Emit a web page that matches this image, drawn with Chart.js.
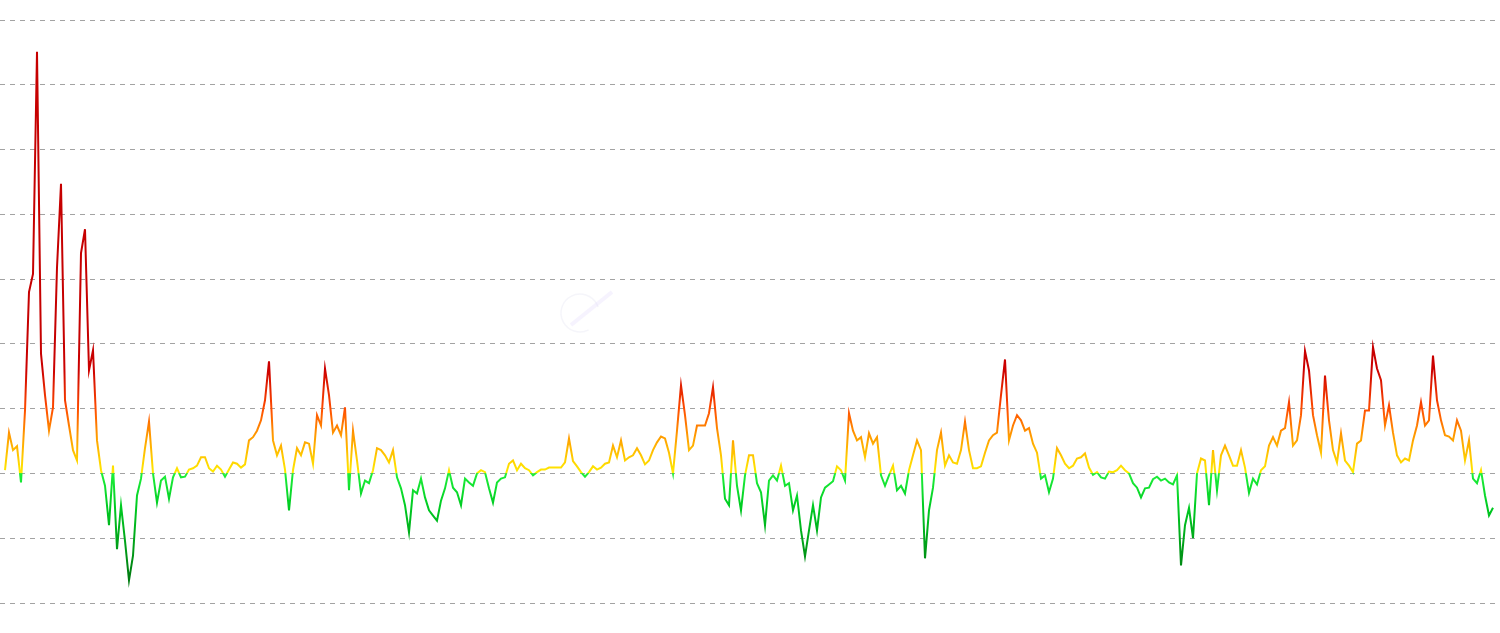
<!DOCTYPE html>
<html>
<head>
<meta charset="utf-8">
<title>Indicator</title>
<script src="https://cdn.jsdelivr.net/npm/chart.js@4.4.1/dist/chart.umd.min.js"></script>
<style>
    html, body { margin: 0; padding: 0; background: #fff; }
    .chart-wrap { position: relative; width: 1500px; height: 633px; }
</style>
</head>
<body>
<div class="chart-wrap"><canvas id="chart-main"></canvas></div>
<script>
// --- Data (one sample every few days) ---
const values = [
    0.05, 0.63, 0.36, 0.42, -0.14, 0.97, 2.80, 3.08, 6.51, 1.85,
    1.21, 0.66, 1.02, 3.18, 4.47, 1.13, 0.74, 0.36, 0.20, 3.40,
    3.77, 1.59, 1.90, 0.51, 0.05, -0.19, -0.80, 0.12, -1.17, -0.49,
    -1.04, -1.65, -1.27, -0.34, -0.08, 0.39, 0.80, 0.00, -0.45, -0.11,
    -0.05, -0.39, -0.06, 0.08, -0.06, -0.05, 0.06, 0.08, 0.12, 0.25,
    0.25, 0.08, 0.03, 0.12, 0.06, -0.05, 0.06, 0.17, 0.15, 0.09,
    0.14, 0.51, 0.56, 0.66, 0.82, 1.13, 1.73, 0.51, 0.28, 0.43,
    0.06, -0.57, 0.05, 0.39, 0.28, 0.48, 0.46, 0.15, 0.90, 0.74,
    1.62, 1.21, 0.63, 0.74, 0.59, 1.02, -0.26, 0.66, 0.20, -0.31,
    -0.11, -0.15, 0.05, 0.39, 0.36, 0.28, 0.17, 0.36, -0.06, -0.23,
    -0.49, -0.91, -0.26, -0.31, -0.08, -0.37, -0.57, -0.65, -0.73, -0.42,
    -0.23, 0.05, -0.22, -0.29, -0.49, -0.08, -0.14, -0.19, 0.00, 0.05,
    0.02, -0.23, -0.45, -0.14, -0.08, -0.06, 0.15, 0.20, 0.05, 0.15,
    0.08, 0.05, -0.03, 0.02, 0.06, 0.06, 0.09, 0.09, 0.09, 0.09,
    0.17, 0.54, 0.19, 0.11, 0.02, -0.05, 0.02, 0.11, 0.06, 0.09,
    0.15, 0.17, 0.43, 0.25, 0.51, 0.20, 0.25, 0.28, 0.39, 0.28,
    0.14, 0.20, 0.36, 0.48, 0.57, 0.54, 0.32, 0.00, 0.66, 1.36,
    0.90, 0.36, 0.43, 0.74, 0.74, 0.74, 0.93, 1.33, 0.70, 0.28,
    -0.39, -0.49, 0.51, -0.19, -0.57, -0.03, 0.28, 0.28, -0.15, -0.29,
    -0.80, -0.11, -0.03, -0.11, 0.12, -0.19, -0.15, -0.57, -0.34, -0.88,
    -1.28, -0.88, -0.49, -0.88, -0.37, -0.22, -0.17, -0.12, 0.11, 0.05,
    -0.11, 0.93, 0.66, 0.51, 0.56, 0.25, 0.62, 0.46, 0.56, -0.03,
    -0.19, -0.03, 0.12, -0.26, -0.19, -0.31, 0.05, 0.28, 0.51, 0.36,
    -1.31, -0.57, -0.22, 0.36, 0.63, 0.12, 0.28, 0.17, 0.15, 0.36,
    0.80, 0.36, 0.08, 0.08, 0.11, 0.32, 0.51, 0.59, 0.63, 1.21,
    1.76, 0.51, 0.74, 0.90, 0.82, 0.66, 0.70, 0.46, 0.32, -0.08,
    -0.03, -0.29, -0.08, 0.39, 0.28, 0.15, 0.08, 0.12, 0.23, 0.25,
    0.31, 0.09, -0.02, 0.02, -0.06, -0.08, 0.03, 0.02, 0.05, 0.12,
    0.05, 0.00, -0.15, -0.22, -0.37, -0.23, -0.22, -0.09, -0.05, -0.11,
    -0.08, -0.14, -0.17, -0.03, -1.42, -0.80, -0.53, -1.00, 0.00, 0.23,
    0.20, -0.49, 0.36, -0.26, 0.28, 0.43, 0.28, 0.12, 0.12, 0.36,
    0.09, -0.30, -0.08, -0.17, 0.05, 0.11, 0.43, 0.56, 0.43, 0.66,
    0.70, 1.10, 0.43, 0.51, 0.90, 1.89, 1.59, 0.90, 0.59, 0.32,
    1.51, 0.82, 0.36, 0.17, 0.62, 0.20, 0.12, 0.02, 0.46, 0.51,
    0.97, 0.97, 1.95, 1.62, 1.44, 0.74, 1.05, 0.63, 0.28, 0.17,
    0.23, 0.20, 0.51, 0.74, 1.10, 0.74, 0.82, 1.82, 1.13, 0.82,
    0.59, 0.57, 0.51, 0.82, 0.66, 0.20, 0.51, -0.08, -0.15, 0.05,
    -0.34, -0.65, -0.53
];
const days = values.map((_, i) => i);

// value axis: one dashed line per unit
const yMin = -2;
const yMax = 7;
const yStep = 1;

// colour by value (green below zero, yellow -> red above)
const colorStops = [
    { v: 2.0, c: '#c60000' },
    { v: 1.6, c: '#cc0000' },
    { v: 1.0, c: '#ff4c00' },
    { v: 0.6, c: '#ff9800' },
    { v: 0.3, c: '#ffc400' },
    { v: 0.0, c: '#ffec00' },
    { v: -0.001, c: '#1ef03a' },
    { v: -0.5, c: '#00cc22' },
    { v: -1.0, c: '#00a81a' },
    { v: -1.6, c: '#007c10' }
];

document.addEventListener('DOMContentLoaded', () => {
    if (typeof Chart === 'undefined') {
        console.warn('Chart.js not loaded');
        return;
    }

    let gradient = null;
    let gradKey = '';

    const lineColor = (context) => {
        const chart = context.chart;
        const area = chart.chartArea;
        if (!area) return '#ffcc00';
        const key = area.top + ':' + area.bottom;
        if (gradient && gradKey === key) return gradient;
        const yScale = chart.scales.y;
        const g = chart.ctx.createLinearGradient(0, area.top, 0, area.bottom);
        const h = area.bottom - area.top;
        colorStops.forEach(s => {
            let p = (yScale.getPixelForValue(s.v) - area.top) / h;
            p = Math.min(1, Math.max(0, p));
            g.addColorStop(p, s.c);
        });
        gradient = g;
        gradKey = key;
        return g;
    };

    // faint logo watermark in the middle
    const watermark = {
        id: 'watermark',
        beforeDatasetsDraw(chart) {
            const c = chart.ctx;
            c.save();
            c.strokeStyle = 'rgba(225, 225, 240, 0.35)';
            c.lineWidth = 1.5;
            c.beginPath();
            c.arc(580, 313, 19, 0.35 * Math.PI, 1.9 * Math.PI);
            c.stroke();
            c.strokeStyle = 'rgba(225, 215, 252, 0.3)';
            c.lineWidth = 4;
            c.beginPath();
            c.moveTo(571, 325);
            c.lineTo(612, 292);
            c.stroke();
            c.restore();
        }
    };

    new Chart(document.getElementById('chart-main'), {
        type: 'line',
        data: {
            datasets: [{
                data: values.map((v, i) => ({ x: days[i], y: v })),
                borderColor: lineColor,
                borderWidth: 2,
                pointRadius: 0,
                tension: 0,
                fill: false
            }]
        },
        options: {
            responsive: true,
            maintainAspectRatio: false,
            animation: false,
            layout: { padding: { top: 20, bottom: 30, left: 0, right: 5 } },
            plugins: {
                legend: { display: false },
                tooltip: { enabled: false }
            },
            scales: {
                x: {
                    type: 'linear',
                    display: false,
                    min: -1.25,
                    max: days.length - 0.5
                },
                y: {
                    min: yMin,
                    max: yMax,
                    ticks: { display: false, stepSize: yStep },
                    grid: { color: '#a3a3a3', lineWidth: 1, drawTicks: false },
                    border: { display: false, dash: [5, 5] }
                }
            }
        },
        plugins: [watermark]
    });
});
</script>
</body>
</html>
